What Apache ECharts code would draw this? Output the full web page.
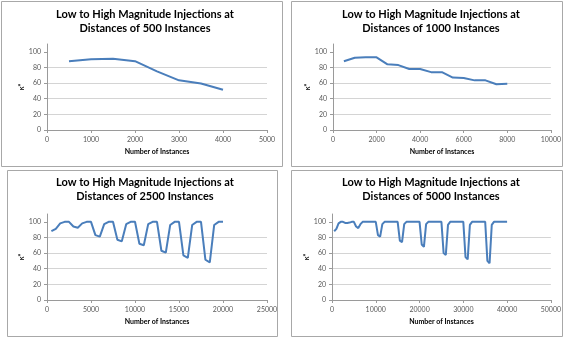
<!DOCTYPE html>
<html>
<head>
<meta charset="utf-8">
<script src="https://cdn.jsdelivr.net/npm/echarts@6/dist/echarts.min.js"></script>
<style>
  html, body { margin: 0; padding: 0; background: #ffffff; }
  #chart { width: 564px; height: 338px; }
</style>
</head>
<body>
<div id="chart"></div>
<script>
// Injections spaced 500 instances apart
const inst500 = [500, 1000, 1500, 2000, 2500, 3000, 3500, 4000];
const kappa500 = [88, 90.5, 91, 88, 75, 63.5, 59.5, 51.5];

// Injections spaced 1000 instances apart
const inst1000 = [500, 1000, 1500, 2000, 2500, 3000, 3500, 4000, 4500, 5000,
                  5500, 6000, 6500, 7000, 7500, 8000];
const kappa1000 = [88, 92.5, 93, 93, 84, 83, 78, 78, 74, 74,
                   67, 66.5, 63.5, 63.5, 58.5, 59];

// Injections spaced 2500 instances apart
const inst2500 = [500, 1000, 1500, 2000, 2500, 3000, 3500, 4000, 4500, 5000,
                  5500, 6000, 6500, 7000, 7500, 8000, 8500, 9000, 9500, 10000,
                  10500, 11000, 11500, 12000, 12500, 13000, 13500, 14000, 14500, 15000,
                  15500, 16000, 16500, 17000, 17500, 18000, 18500, 19000, 19500, 20000];
const kappa2500 = [88, 91, 98, 100, 100, 94, 92.5, 98, 100, 100,
                   83, 81, 97, 100, 100, 77, 75, 97, 100, 100,
                   72, 70, 97, 100, 100, 63, 60.5, 96, 100, 100,
                   57, 54, 96, 100, 100, 51.5, 48, 96, 100, 100];

// Injections spaced 5000 instances apart
const inst5000 = [500, 1000, 1500, 2000, 2500, 3000, 3500, 4000, 4500, 5000,
                  5500, 6000, 6500, 7000, 7500, 8000, 8500, 9000, 9500, 10000,
                  10500, 11000, 11500, 12000, 12500, 13000, 13500, 14000, 14500, 15000,
                  15500, 16000, 16500, 17000, 17500, 18000, 18500, 19000, 19500, 20000,
                  20500, 21000, 21500, 22000, 22500, 23000, 23500, 24000, 24500, 25000,
                  25500, 26000, 26500, 27000, 27500, 28000, 28500, 29000, 29500, 30000,
                  30500, 31000, 31500, 32000, 32500, 33000, 33500, 34000, 34500, 35000,
                  35500, 36000, 36500, 37000, 37500, 38000, 38500, 39000, 39500, 40000];
const kappa5000 = [88, 91, 98, 100, 100, 98.5, 98.5, 99, 100, 100,
                   94, 92, 97, 100, 100, 100, 100, 100, 100, 100,
                   83, 81, 97, 100, 100, 100, 100, 100, 100, 100,
                   76, 74, 97, 100, 100, 100, 100, 100, 100, 100,
                   71, 68, 97, 100, 100, 100, 100, 100, 100, 100,
                   60, 57.5, 96, 100, 100, 100, 100, 100, 100, 100,
                   55, 52, 96, 100, 100, 100, 100, 100, 100, 100,
                   50, 47, 96, 100, 100, 100, 100, 100, 100, 100];

// Axis ticks
const yTicks = [0, 20, 40, 60, 80, 100];
const xAxisMax = [5000, 10000, 25000, 50000];
const xAxisStep = [1000, 2000, 5000, 10000];
const spacingLabels = ['500', '1000', '2500', '5000'];

const xName = 'Number of Instances';
const yName = 'κ*';

const panels = [
  { xs: inst500,  ys: kappa500,  grid: { left: 47,  top: 44,  width: 220, height: 86 },
    box: [1, 1, 281, 165],   titleAt: [145, 8] },
  { xs: inst1000, ys: kappa1000, grid: { left: 333, top: 44,  width: 218, height: 86 },
    box: [291, 1, 271, 165], titleAt: [431, 8] },
  { xs: inst2500, ys: kappa2500, grid: { left: 47,  top: 214, width: 220, height: 86 },
    box: [7, 170, 270, 166], titleAt: [145, 176] },
  { xs: inst5000, ys: kappa5000, grid: { left: 332, top: 214, width: 222, height: 86 },
    box: [291, 170, 271, 166], titleAt: [431, 176] }
];

const FONT = 'Lato, "Liberation Sans", sans-serif';
const axisGrey = '#9a9a9a';
const labelGrey = '#595959';

const grids = [], xAxes = [], yAxes = [], series = [], graphics = [];

panels.forEach((p, i) => {
  grids.push(Object.assign({ containLabel: false }, p.grid));

  xAxes.push({
    type: 'value', gridIndex: i, min: 0, max: xAxisMax[i], interval: xAxisStep[i],
    name: xName, nameLocation: 'middle', nameGap: 18,
    nameTextStyle: { fontFamily: FONT, fontWeight: 'bold', fontSize: 7, color: '#000' },
    axisLine: { show: true, lineStyle: { color: axisGrey, width: 1 } },
    axisTick: { show: true, length: 3, lineStyle: { color: axisGrey } },
    axisLabel: { fontFamily: FONT, fontSize: 7, color: labelGrey, margin: 6,
                 showMinLabel: true, showMaxLabel: true,
                 formatter: v => String(v) },
    splitLine: { show: false }
  });

  yAxes.push({
    type: 'value', gridIndex: i, min: 0, max: 110, interval: 20,
    name: yName, nameLocation: 'middle', nameGap: 22, nameRotate: 90,
    nameTextStyle: { fontFamily: FONT, fontWeight: 'bold', fontSize: 7, color: '#000' },
    axisLine: { show: true, lineStyle: { color: axisGrey, width: 1 } },
    axisTick: { show: true, length: 3, customValues: yTicks, lineStyle: { color: axisGrey } },
    axisLabel: { fontFamily: FONT, fontSize: 7, color: labelGrey, margin: 6, customValues: yTicks,
                 formatter: v => String(v) },
    splitLine: { show: true, showMinLine: false, showMaxLine: false,
                 lineStyle: { color: '#d4d4d4', width: 1 } }
  });

  series.push({
    type: 'line', xAxisIndex: i, yAxisIndex: i,
    data: p.xs.map((x, j) => [x, p.ys[j]]),
    showSymbol: false, symbol: 'none',
    lineStyle: { color: '#4a7ebb', width: 2 },
    animation: false
  });

  graphics.push({
    type: 'rect', silent: true,
    shape: { x: p.box[0] + 0.5, y: p.box[1] + 0.5, width: p.box[2], height: p.box[3] },
    style: { fill: 'none', stroke: '#a8a8a8', lineWidth: 1 }
  });

  graphics.push({
    type: 'text', silent: true, x: p.titleAt[0], y: p.titleAt[1],
    style: {
      text: 'Low to High Magnitude Injections at\nDistances of ' + spacingLabels[i] + ' Instances',
      font: 'bold 11px ' + FONT, fill: '#000',
      textAlign: 'center', textVerticalAlign: 'top', align: 'center', verticalAlign: 'top',
      lineHeight: 13.5
    }
  });
});

const chart = echarts.init(document.getElementById('chart'), null, { renderer: 'canvas' });
chart.setOption({
  animation: false,
  backgroundColor: '#ffffff',
  grid: grids,
  xAxis: xAxes,
  yAxis: yAxes,
  series: series,
  graphic: graphics
});
</script>
</body>
</html>
